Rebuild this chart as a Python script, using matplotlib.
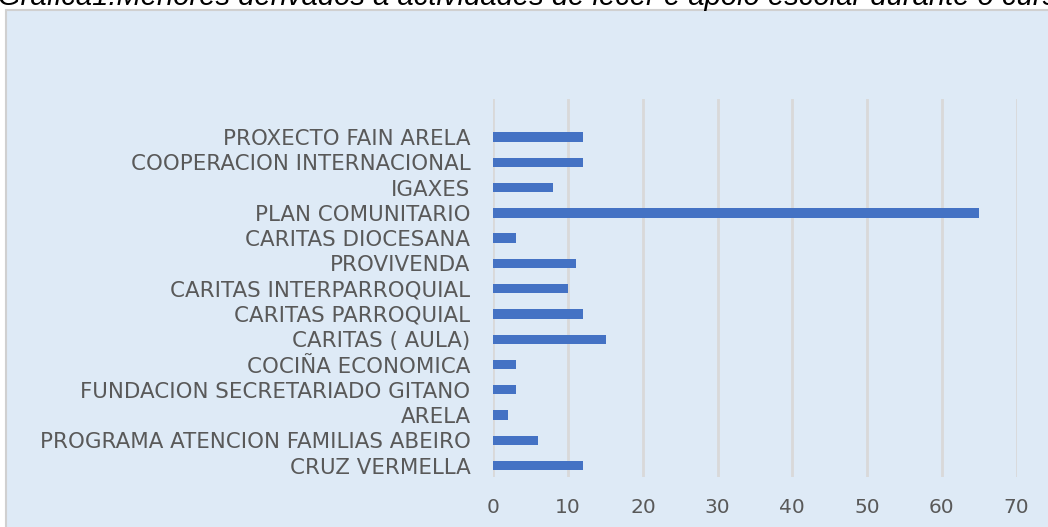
import matplotlib.pyplot as plt
import numpy as np
from matplotlib.patches import Rectangle

# categories, top to bottom as they appear
categories = [
    "PROXECTO FAIN ARELA",
    "COOPERACION INTERNACIONAL",
    "IGAXES",
    "PLAN COMUNITARIO",
    "CARITAS DIOCESANA",
    "PROVIVENDA",
    "CARITAS INTERPARROQUIAL",
    "CARITAS PARROQUIAL",
    "CARITAS ( AULA)",
    "COCIÑA ECONOMICA",
    "FUNDACION SECRETARIADO GITANO",
    "ARELA",
    "PROGRAMA ATENCION FAMILIAS ABEIRO",
    "CRUZ VERMELLA",
]
values = [12, 12, 8, 65, 3, 11, 10, 12, 15, 3, 3, 2, 6, 12]
x_ticks = [0, 10, 20, 30, 40, 50, 60, 70]
title = "Gráfica1.Menores derivados a actividades de lecer e apoio escolar durante o curso"

W, H = 1048, 527
fig = plt.figure(figsize=(W / 100, H / 100), dpi=100)

# light blue chart panel with grey border
panel = Rectangle((6 / W, -0.01), 1.0, (H - 10) / H + 0.01, transform=fig.transFigure,
                  facecolor="#DEEAF6", edgecolor="#D0D0D0", linewidth=1.5, zorder=-5)
fig.patches.append(panel)

# clipped title at the very top
fig.text(-2 / W, 1 - 5 / H, title, fontsize=21, style="italic", family="Liberation Sans",
         color="black", ha="left", va="baseline")

left, right, top, bottom = 493.4, 1016.6, 99.3, 477.3
ax = fig.add_axes([left / W, (H - bottom) / H, (right - left) / W, (bottom - top) / H])
ax.set_facecolor("none")
ax.set_zorder(2)

y = np.arange(len(categories))[::-1]
ax.barh(y, values, height=0.37, color="#4472C4", zorder=3)

ax.set_xlim(0, 70)
ax.set_ylim(-0.46, 14.49)
ax.set_xticks(x_ticks)
ax.set_yticks(y)
ax.set_yticklabels(categories)
ax.grid(axis="x", color="#D9D9D9", linewidth=2, zorder=1)
ax.grid(axis="y", visible=False)
for s in ax.spines.values():
    s.set_visible(False)
ax.tick_params(axis="both", length=0, colors="#595959")
ax.tick_params(axis="y", pad=16.5, labelsize=15.4)
ax.tick_params(axis="x", pad=15, labelsize=14.5)
for lab in ax.get_yticklabels() + ax.get_xticklabels():
    lab.set_family("DejaVu Sans")

fig.savefig("out.png", dpi=100)
